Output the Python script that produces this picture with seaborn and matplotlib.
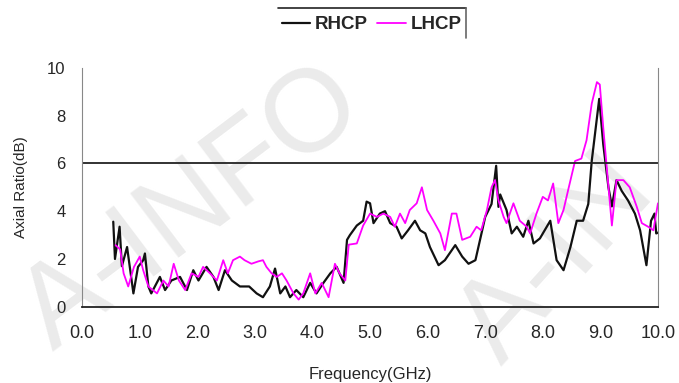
import matplotlib
matplotlib.use('Agg')
import matplotlib.pyplot as plt
import seaborn as sns
import pandas as pd
from matplotlib.lines import Line2D

# RHCP axial ratio
rhcp_freq = [0.54, 0.57, 0.65, 0.69, 0.78, 0.89, 0.97, 1.06, 1.09, 1.15, 1.2, 1.35, 1.44, 1.55,
             1.70, 1.82, 1.93, 2.02, 2.16, 2.28, 2.37, 2.48, 2.6, 2.74, 2.9, 3.03, 3.14, 3.26,
             3.35, 3.44, 3.53, 3.61, 3.72, 3.84, 3.96, 4.07, 4.19, 4.31, 4.42, 4.54, 4.60, 4.65,
             4.77, 4.88, 4.94, 5.0, 5.06, 5.17, 5.26, 5.35, 5.46, 5.55, 5.66, 5.78, 5.87, 5.96,
             6.04, 6.19, 6.3, 6.48, 6.6, 6.71, 6.83, 6.91, 7.0, 7.11, 7.19, 7.23, 7.26, 7.37,
             7.46, 7.55, 7.66, 7.75, 7.84, 7.95, 8.13, 8.24, 8.36, 8.48, 8.59, 8.7, 8.79, 8.85,
             8.94, 8.98, 9.05, 9.14, 9.2, 9.28, 9.37, 9.48, 9.6, 9.69, 9.8, 9.88, 9.94, 9.97, 10.0]
rhcp_ar = [3.56, 2.0, 3.35, 1.7, 2.5, 0.56, 1.67, 1.95, 2.23, 0.85, 0.56, 1.25, 0.7, 1.1,
           1.25, 0.7, 1.53, 1.1, 1.67, 1.25, 0.7, 1.53, 1.1, 0.85, 0.85, 0.56, 0.4, 0.85,
           1.6, 0.56, 0.85, 0.4, 0.7, 0.4, 1.0, 0.56, 1.0, 1.4, 1.67, 1.0, 2.8, 3.0,
           3.4, 3.6, 4.4, 4.33, 3.5, 3.9, 4.0, 3.5, 3.35, 2.86, 3.2, 3.6, 3.2, 3.07,
           2.5, 1.74, 1.95, 2.58, 2.1, 1.8, 1.95, 2.8, 3.76, 4.3, 5.9, 4.18, 4.7, 4.05,
           3.07, 3.35, 2.93, 3.6, 2.65, 2.86, 3.6, 1.95, 1.53, 2.5, 3.6, 3.6, 4.3, 6.1,
           7.9, 8.7, 6.8, 5.0, 4.2, 5.3, 4.85, 4.45, 3.9, 3.2, 1.74, 3.6, 3.9, 3.07, 3.1]

# LHCP axial ratio
lhcp_freq = [0.58, 0.66, 0.72, 0.8, 0.9, 1.0, 1.06, 1.15, 1.30, 1.41, 1.5, 1.59, 1.68, 1.79,
             1.9, 2.02, 2.1, 2.22, 2.34, 2.45, 2.53, 2.62, 2.74, 2.82, 2.94, 3.06, 3.14, 3.2,
             3.29, 3.38, 3.47, 3.55, 3.67, 3.76, 3.84, 3.96, 4.05, 4.16, 4.28, 4.39, 4.47, 4.57,
             4.63, 4.77, 4.88, 5.0, 5.12, 5.23, 5.35, 5.43, 5.52, 5.61, 5.69, 5.81, 5.9, 5.99,
             6.1, 6.22, 6.3, 6.42, 6.5, 6.6, 6.74, 6.85, 6.93, 7.03, 7.11, 7.17, 7.23, 7.32,
             7.37, 7.49, 7.6, 7.72, 7.78, 7.89, 8.0, 8.09, 8.18, 8.27, 8.36, 8.44, 8.56, 8.67,
             8.76, 8.85, 8.94, 8.99, 9.05, 9.11, 9.2, 9.28, 9.4, 9.51, 9.63, 9.72, 9.83, 9.92, 10.0]
lhcp_ar = [2.58, 2.4, 1.4, 0.85, 1.67, 2.1, 1.53, 0.85, 0.56, 1.1, 0.85, 1.8, 1.1, 0.7,
           1.4, 1.25, 1.67, 1.4, 1.1, 1.95, 1.4, 1.95, 2.1, 1.95, 1.8, 1.9, 1.95, 1.67,
           1.4, 1.25, 1.4, 1.1, 0.56, 0.3, 0.56, 1.4, 0.56, 1.0, 0.4, 1.8, 1.4, 1.1,
           2.6, 2.65, 3.4, 3.9, 3.76, 3.9, 3.76, 3.35, 3.9, 3.5, 4.05, 4.33, 5.0, 4.05,
           3.6, 3.07, 2.37, 3.9, 3.9, 2.8, 2.93, 3.35, 3.2, 4.05, 5.0, 5.3, 4.45, 3.76,
           3.5, 4.33, 3.6, 3.35, 3.07, 3.9, 4.6, 4.45, 5.16, 3.5, 4.05, 4.88, 6.1, 6.2,
           6.97, 8.5, 9.4, 9.3, 7.5, 5.85, 3.4, 5.3, 5.3, 5.0, 4.2, 3.5, 3.35, 3.2, 4.33]

x_ticks = [0, 1, 2, 3, 4, 5, 6, 7, 8, 9, 10]
y_ticks = [0, 2, 4, 6, 8, 10]
limit_db = 6

sns.set_style('white')
plt.rcParams['font.family'] = ['Liberation Sans', 'DejaVu Sans']

fig = plt.figure(figsize=(6.79, 3.83), dpi=100)
ax = fig.add_axes([0.121, 0.199, 0.848, 0.624])

# faint watermark behind everything
fig.text(0.003, 0.03, 'A-INFO', fontsize=84, color='#ebebeb', rotation=37,
         ha='left', va='bottom', zorder=-5)
fig.text(0.995, 0.0, 'A-IN', fontsize=84, color='#ebebeb', rotation=48,
         ha='right', va='bottom', zorder=-5)
ax.set_facecolor('none')

df_r = pd.DataFrame({'f': rhcp_freq, 'ar': rhcp_ar})
df_l = pd.DataFrame({'f': lhcp_freq, 'ar': lhcp_ar})
sns.lineplot(data=df_r, x='f', y='ar', color='#111111', lw=1.6, ax=ax, label='RHCP')
sns.lineplot(data=df_l, x='f', y='ar', color='#ff00ff', lw=1.3, ax=ax, label='LHCP')
ax.axhline(limit_db, color='#222222', lw=1.3)

ax.set_xlim(0, 10)
ax.set_ylim(0, 10)
ax.set_xticks(x_ticks)
ax.set_xticklabels([f'{v:.1f}' for v in x_ticks])
ax.set_yticks(y_ticks)
ax.tick_params(axis='x', direction='in', length=5, color='#333333', labelsize=13, pad=13)
ax.tick_params(axis='y', length=0, labelsize=12, pad=12)
ax.spines['top'].set_visible(False)
ax.spines['left'].set_color('#888888')
ax.spines['right'].set_color('#888888')
ax.spines['bottom'].set_color('#222222')
ax.spines['bottom'].set_linewidth(1.3)
ax.set_xlabel('Frequency(GHz)', fontsize=12, labelpad=18)
ax.set_ylabel('Axial Ratio(dB)', fontsize=11, labelpad=14)

leg = ax.legend(loc='center', bbox_to_anchor=(0.503, 1.18), ncol=2, frameon=False,
                fontsize=13.5, handlelength=1.5, handletextpad=0.25, columnspacing=0.5)
for t in leg.get_texts():
    t.set_fontweight('bold')
# partial legend frame (top and right edges)
fig.add_artist(Line2D([0.41, 0.686], [0.979, 0.979], color='#222222', lw=1.2))
fig.add_artist(Line2D([0.686, 0.686], [0.979, 0.90], color='#666666', lw=1.2))

plt.savefig('out.png', dpi=100)
